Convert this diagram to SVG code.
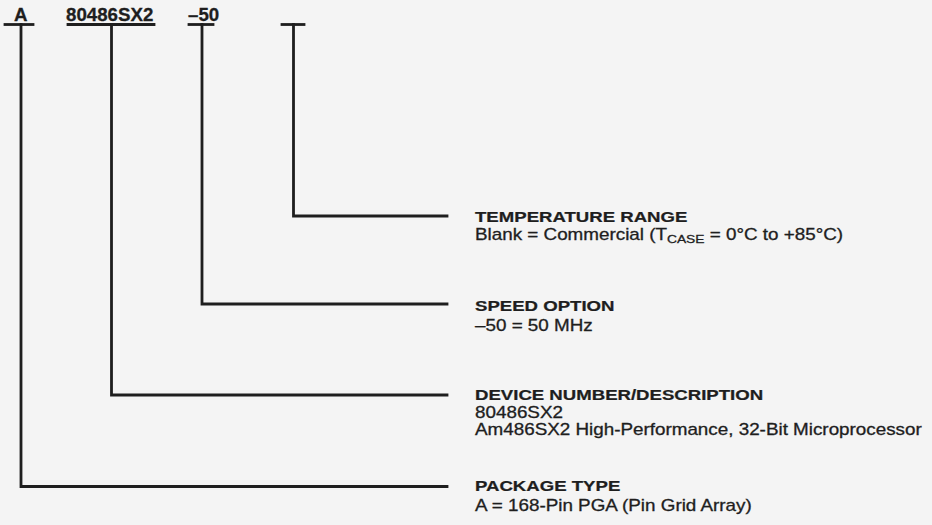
<svg xmlns="http://www.w3.org/2000/svg" width="932" height="525" viewBox="0 0 932 525">
  <style>
    .code { font-family: "Liberation Sans", Arial, sans-serif; font-weight: bold; font-size: 18.7px; fill: #1e1e1e; stroke: #1e1e1e; stroke-width: 0.3; }
    .title { font-family: "Liberation Sans", Arial, sans-serif; font-weight: bold; font-size: 15.5px; fill: #1e1e1e; stroke: #1e1e1e; stroke-width: 0.25; }
    .desc { font-family: "Liberation Sans", Arial, sans-serif; font-size: 15.7px; fill: #1e1e1e; stroke: #1e1e1e; stroke-width: 0.3; }
    .ln { stroke: #1e1e1e; stroke-width: 2.8; fill: none; stroke-linecap: square; stroke-linejoin: miter; }
  </style>
  <rect x="0" y="0" width="932" height="525" fill="#f4f4f4"/>

  <g id="code-A">
    <text class="code" x="14" y="21">A</text>
    <line class="ln" x1="5" y1="24.5" x2="33" y2="24.5"/>
  </g>
  <g id="code-device">
    <text class="code" x="66" y="21">80486SX2</text>
    <line class="ln" x1="68" y1="24.5" x2="154" y2="24.5"/>
  </g>
  <g id="code-speed">
    <text class="code" x="188" y="21">–50</text>
    <line class="ln" x1="189" y1="24.5" x2="213" y2="24.5"/>
  </g>
  <g id="code-temp">
    <line class="ln" x1="282" y1="24.5" x2="304" y2="24.5"/>
  </g>

  <g id="connectors">
    <polyline class="ln" points="293.5,24.5 293.5,216 447,216"/>
    <polyline class="ln" points="202,24.5 202,304 447,304"/>
    <polyline class="ln" points="111.5,24.5 111.5,395 447,395"/>
    <polyline class="ln" points="21,24.5 21,486.5 447,486.5"/>
  </g>

  <g id="label-temp" transform="translate(475,0) scale(1.2,1)">
    <text class="title" x="0" y="222.5">TEMPERATURE RANGE</text>
    <text class="desc" x="0" y="240.5">Blank = Commercial (T<tspan font-size="11.5px" dy="3">CASE</tspan><tspan dy="-3"> = 0°C to +85°C)</tspan></text>
  </g>
  <g id="label-speed" transform="translate(475,0) scale(1.2,1)">
    <text class="title" x="0" y="311">SPEED OPTION</text>
    <text class="desc" x="0" y="331">–50 = 50 MHz</text>
  </g>
  <g id="label-device" transform="translate(475,0) scale(1.2,1)">
    <text class="title" x="0" y="400.5">DEVICE NUMBER/DESCRIPTION</text>
    <text class="desc" x="0" y="418">80486SX2</text>
    <text class="desc" x="0" y="435">Am486SX2 High-Performance, 32-Bit Microprocessor</text>
  </g>
  <g id="label-package" transform="translate(475,0) scale(1.2,1)">
    <text class="title" x="0" y="491">PACKAGE TYPE</text>
    <text class="desc" x="0" y="511">A = 168-Pin PGA (Pin Grid Array)</text>
  </g>
</svg>
